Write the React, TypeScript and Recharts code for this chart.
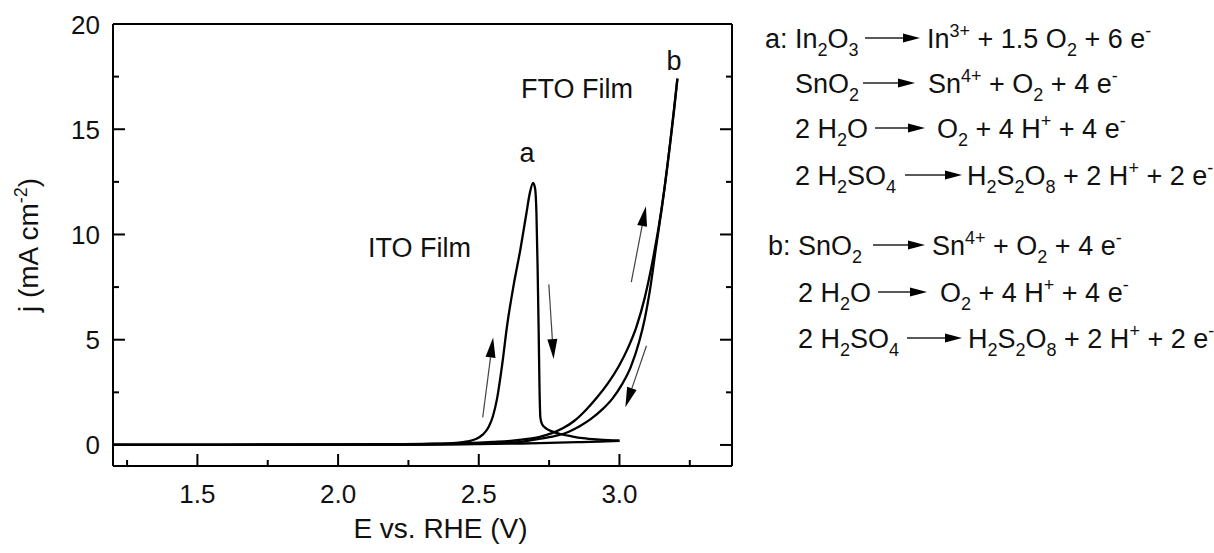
import React from 'react';
import { LineChart, Line, XAxis, YAxis, ReferenceLine, Label } from 'recharts';

const FONT = '"Liberation Sans", Arial, Helvetica, sans-serif';

// axes: potential (V vs RHE) and current density (mA cm-2)
const eDomain = [1.2, 3.4];
const jDomain = [-1, 20];
const eMajorTicks = [1.5, 2.0, 2.5, 3.0];
const eMinorTicks = [1.25, 1.75, 2.25, 2.75, 3.25];
const jMajorTicks = [0, 5, 10, 15, 20];
const jMinorTicks = [2.5, 7.5, 12.5, 17.5];

// ITO film, forward scan with the dissolution peak (a)
const itoForward = [
  { e: 1.2, j: 0.02 }, { e: 1.6, j: 0.02 }, { e: 2.0, j: 0.03 }, { e: 2.2, j: 0.04 },
  { e: 2.35, j: 0.06 }, { e: 2.42, j: 0.1 }, { e: 2.46, j: 0.17 }, { e: 2.49, j: 0.28 },
  { e: 2.515, j: 0.5 }, { e: 2.535, j: 0.85 }, { e: 2.55, j: 1.35 }, { e: 2.565, j: 2.2 },
  { e: 2.583, j: 3.8 }, { e: 2.601, j: 5.7 }, { e: 2.624, j: 7.6 }, { e: 2.648, j: 9.3 },
  { e: 2.668, j: 10.9 }, { e: 2.682, j: 12.0 }, { e: 2.693, j: 12.45 }, { e: 2.7, j: 12.2 },
  { e: 2.705, j: 11.0 }, { e: 2.709, j: 8.5 }, { e: 2.713, j: 5.3 }, { e: 2.716, j: 2.6 },
  { e: 2.719, j: 1.3 }, { e: 2.725, j: 0.98 }, { e: 2.74, j: 0.78 }, { e: 2.765, j: 0.62 },
  { e: 2.79, j: 0.52 }, { e: 2.83, j: 0.41 }, { e: 2.87, j: 0.32 }, { e: 2.93, j: 0.25 },
  { e: 3.0, j: 0.2 },
];

// ITO film, reverse scan
const itoReverse = [
  { e: 1.2, j: 0.0 }, { e: 2.3, j: 0.02 }, { e: 2.5, j: 0.04 }, { e: 2.65, j: 0.07 },
  { e: 2.75, j: 0.1 }, { e: 2.85, j: 0.13 }, { e: 2.93, j: 0.16 }, { e: 3.0, j: 0.2 },
];

// FTO film (b), forward scan
const ftoForward = [
  { e: 1.2, j: 0.0 }, { e: 2.0, j: 0.01 }, { e: 2.3, j: 0.04 }, { e: 2.45, j: 0.08 },
  { e: 2.55, j: 0.14 }, { e: 2.62, j: 0.2 }, { e: 2.68, j: 0.3 }, { e: 2.72, j: 0.4 },
  { e: 2.76, j: 0.56 }, { e: 2.8, j: 0.8 }, { e: 2.84, j: 1.15 }, { e: 2.88, j: 1.65 },
  { e: 2.92, j: 2.25 }, { e: 2.96, j: 2.95 }, { e: 3.0, j: 3.8 }, { e: 3.03, j: 4.6 },
  { e: 3.06, j: 5.6 }, { e: 3.09, j: 7.0 }, { e: 3.12, j: 8.9 }, { e: 3.14, j: 10.4 },
  { e: 3.16, j: 12.2 }, { e: 3.18, j: 14.3 }, { e: 3.195, j: 16.0 }, { e: 3.206, j: 17.4 },
];

// FTO film (b), reverse scan
const ftoReverse = [
  { e: 1.2, j: 0.0 }, { e: 2.2, j: 0.01 }, { e: 2.4, j: 0.03 }, { e: 2.55, j: 0.08 },
  { e: 2.65, j: 0.15 }, { e: 2.72, j: 0.3 }, { e: 2.78, j: 0.45 }, { e: 2.82, j: 0.63 },
  { e: 2.86, j: 0.9 }, { e: 2.9, j: 1.25 }, { e: 2.94, j: 1.7 }, { e: 2.975, j: 2.2 },
  { e: 3.01, j: 2.9 }, { e: 3.04, j: 3.7 }, { e: 3.07, j: 4.9 }, { e: 3.09, j: 6.0 },
  { e: 3.11, j: 7.5 }, { e: 3.13, j: 9.4 }, { e: 3.15, j: 11.2 }, { e: 3.17, j: 13.2 },
  { e: 3.19, j: 15.5 }, { e: 3.206, j: 17.4 },
];

// scan direction arrows, [from, to] in (E, j)
const scanArrows = [
  [{ x: 2.514, y: 1.31 }, { x: 2.551, y: 5.1 }],
  [{ x: 2.749, y: 7.63 }, { x: 2.766, y: 4.08 }],
  [{ x: 3.042, y: 7.74 }, { x: 3.094, y: 11.34 }],
  [{ x: 3.096, y: 4.71 }, { x: 3.021, y: 1.79 }],
];

// reactions listed on the right: lhs, arrow, rhs
const reactions = [
  { lhs: 'a: In_2O_3', rhs: 'In^{3+} + 1.5 O_2 + 6 e^{-}', x: 765, a1: 865, a2: 920, rx: 927, y: 48 },
  { lhs: 'SnO_2', rhs: 'Sn^{4+} + O_2 + 4 e^{-}', x: 795, a1: 863, a2: 915, rx: 928, y: 93 },
  { lhs: '2 H_2O', rhs: 'O_2 + 4 H^{+} + 4 e^{-}', x: 795, a1: 875, a2: 925, rx: 937, y: 138 },
  { lhs: '2 H_2SO_4', rhs: 'H_2S_2O_8 + 2 H^{+} + 2 e^{-}', x: 795, a1: 905, a2: 962, rx: 967, y: 185 },
  { lhs: 'b: SnO_2', rhs: 'Sn^{4+} + O_2 + 4 e^{-}', x: 768, a1: 873, a2: 925, rx: 932, y: 255 },
  { lhs: '2 H_2O', rhs: 'O_2 + 4 H^{+} + 4 e^{-}', x: 798, a1: 878, a2: 927, rx: 940, y: 302 },
  { lhs: '2 H_2SO_4', rhs: 'H_2S_2O_8 + 2 H^{+} + 2 e^{-}', x: 798, a1: 907, a2: 962, rx: 968, y: 348 },
];

const allETicks = [...eMinorTicks, ...eMajorTicks].sort((a, b) => a - b);
const allJTicks = [...jMinorTicks, ...jMajorTicks].sort((a, b) => a - b);
const isMajor = (v: number, majors: number[]) => majors.some((m) => Math.abs(m - v) < 1e-6);

const BottomTick = (props: any) => {
  const { x, y, payload } = props;
  const major = isMajor(payload.value, eMajorTicks);
  return (
    <g>
      <line x1={x} y1={y} x2={x} y2={y - (major ? 12 : 6)} stroke="#000" strokeWidth={2} />
      {major && (
        <text x={x} y={y + 37} textAnchor="middle" fontSize={26} fontFamily={FONT} fill="#111">
          {payload.value.toFixed(1)}
        </text>
      )}
    </g>
  );
};

const TopTick = (props: any) => {
  const { x, y, payload } = props;
  const major = isMajor(payload.value, eMajorTicks);
  return <line x1={x} y1={y} x2={x} y2={y + (major ? 12 : 6)} stroke="#000" strokeWidth={2} />;
};

const LeftTick = (props: any) => {
  const { x, y, payload } = props;
  const major = isMajor(payload.value, jMajorTicks);
  return (
    <g>
      <line x1={x} y1={y} x2={x + (major ? 12 : 6)} y2={y} stroke="#000" strokeWidth={2} />
      {major && (
        <text x={x - 13} y={y + 9.5} textAnchor="end" fontSize={26} fontFamily={FONT} fill="#111">
          {payload.value}
        </text>
      )}
    </g>
  );
};

const RightTick = (props: any) => {
  const { x, y, payload } = props;
  const major = isMajor(payload.value, jMajorTicks);
  return <line x1={x} y1={y} x2={x - (major ? 12 : 6)} y2={y} stroke="#000" strokeWidth={2} />;
};

const YTitle = (props: any) => {
  const vb = props.viewBox || { x: 0, y: 24, width: 113, height: 442 };
  const cx = 38;
  const cy = vb.y + vb.height / 2;
  return (
    <text transform={`rotate(-90, ${cx}, ${cy})`} x={cx} y={cy} textAnchor="middle"
      fontSize={28} fontFamily={FONT} fill="#111" style={{ whiteSpace: 'pre' }}>
      j (mA cm<tspan dy={-11} fontSize={18}>-2</tspan><tspan dy={11}>)</tspan>
    </text>
  );
};

const XTitle = (props: any) => {
  const vb = props.viewBox || { x: 113, y: 466, width: 619, height: 80 };
  return (
    <text x={vb.x + vb.width / 2 + 18} y={538} textAnchor="middle" fontSize={28} fontFamily={FONT} fill="#111">
      E vs. RHE (V)
    </text>
  );
};

const ScanArrow = (props: any) => {
  const { x1, y1, x2, y2 } = props;
  const dx = x2 - x1;
  const dy = y2 - y1;
  const len = Math.hypot(dx, dy) || 1;
  const ux = dx / len;
  const uy = dy / len;
  const hl = 20;
  const hw = 5;
  const bx = x2 - ux * hl;
  const by = y2 - uy * hl;
  return (
    <g>
      <line x1={x1} y1={y1} x2={bx} y2={by} stroke="#444" strokeWidth={1.2} />
      <polygon points={`${x2},${y2} ${bx - uy * hw},${by + ux * hw} ${bx + uy * hw},${by - ux * hw}`} fill="#000" />
    </g>
  );
};

// "H_2SO_4" -> tspans with subscripts, "e^{-}" -> superscript
const parseChem = (s: string) => {
  const out: { t: string; k: string }[] = [];
  let buf = '';
  let i = 0;
  while (i < s.length) {
    const c = s[i];
    if (c === '_') {
      if (buf) out.push({ t: buf, k: 'n' });
      buf = '';
      out.push({ t: s[i + 1], k: 'sub' });
      i += 2;
    } else if (c === '^') {
      if (buf) out.push({ t: buf, k: 'n' });
      buf = '';
      const end = s.indexOf('}', i);
      out.push({ t: s.slice(i + 2, end), k: 'sup' });
      i = end + 1;
    } else {
      buf += c;
      i++;
    }
  }
  if (buf) out.push({ t: buf, k: 'n' });
  return out;
};

const Chem: React.FC<{ text: string; x: number; y: number }> = ({ text, x, y }) => {
  let cur = 0;
  return (
    <text x={x} y={y} fontSize={27} fontFamily={FONT} fill="#111" style={{ whiteSpace: 'pre' }}>
      {parseChem(text).map((seg, i) => {
        const target = seg.k === 'sub' ? 8 : seg.k === 'sup' ? -11 : 0;
        const dy = target - cur;
        cur = target;
        return (
          <tspan key={i} dy={dy} fontSize={seg.k === 'n' ? 27 : 18}>{seg.t}</tspan>
        );
      })}
    </text>
  );
};

const EqArrow: React.FC<{ x1: number; x2: number; y: number }> = ({ x1, x2, y }) => (
  <g>
    <line x1={x1} y1={y} x2={x2 - 15} y2={y} stroke="#222" strokeWidth={1.3} />
    <polygon points={`${x2},${y} ${x2 - 17},${y - 4.5} ${x2 - 17},${y + 4.5}`} fill="#000" />
  </g>
);

const axisLine = { stroke: '#000', strokeWidth: 2 };
const curve = { stroke: '#000', strokeWidth: 2.3, dot: false, isAnimationActive: false, type: 'monotone' as const };

export default function App() {
  return (
    <div style={{ position: 'absolute', left: 0, top: 0, width: 1214, height: 553, background: '#fff', fontFamily: FONT }}>
      <LineChart width={1214} height={553} margin={{ top: 20, right: 472, bottom: 7, left: 0 }}>
        <XAxis dataKey="e" type="number" domain={eDomain} allowDataOverflow ticks={allETicks} interval={0}
          tickSize={0} tickMargin={0} tickLine={false} axisLine={axisLine} tick={<BottomTick />} height={80}>
          <Label content={<XTitle />} />
        </XAxis>
        <XAxis xAxisId="top" orientation="top" type="number" domain={eDomain} allowDataOverflow ticks={allETicks}
          interval={0} tickSize={0} tickMargin={0} tickLine={false} axisLine={axisLine} tick={<TopTick />} height={4} />
        <YAxis type="number" domain={jDomain} allowDataOverflow ticks={allJTicks} interval={0}
          tickSize={0} tickMargin={0} tickLine={false} axisLine={axisLine} tick={<LeftTick />} width={113}>
          <Label content={<YTitle />} />
        </YAxis>
        <YAxis yAxisId="right" orientation="right" type="number" domain={jDomain} allowDataOverflow ticks={allJTicks}
          interval={0} tickSize={0} tickMargin={0} tickLine={false} axisLine={axisLine} tick={<RightTick />} width={10} />
        <Line data={itoReverse} dataKey="j" {...curve} />
        <Line data={ftoReverse} dataKey="j" {...curve} />
        <Line data={ftoForward} dataKey="j" {...curve} />
        <Line data={itoForward} dataKey="j" {...curve} />
        {scanArrows.map((seg, i) => (
          <ReferenceLine key={i} segment={seg} shape={ScanArrow} />
        ))}
      </LineChart>
      <svg width={1214} height={553} style={{ position: 'absolute', left: 0, top: 0, pointerEvents: 'none' }}>
        <text x={527} y={162} textAnchor="middle" fontSize={27} fontFamily={FONT} fill="#111">a</text>
        <text x={674} y={70} textAnchor="middle" fontSize={27} fontFamily={FONT} fill="#111">b</text>
        <text x={368} y={257} fontSize={27} fontFamily={FONT} fill="#111">ITO Film</text>
        <text x={521} y={98} fontSize={27} fontFamily={FONT} fill="#111">FTO Film</text>
        {reactions.map((r, i) => (
          <g key={i}>
            <Chem text={r.lhs} x={r.x} y={r.y} />
            <EqArrow x1={r.a1} x2={r.a2} y={r.y - 10} />
            <Chem text={r.rhs} x={r.rx} y={r.y} />
          </g>
        ))}
      </svg>
    </div>
  );
}
